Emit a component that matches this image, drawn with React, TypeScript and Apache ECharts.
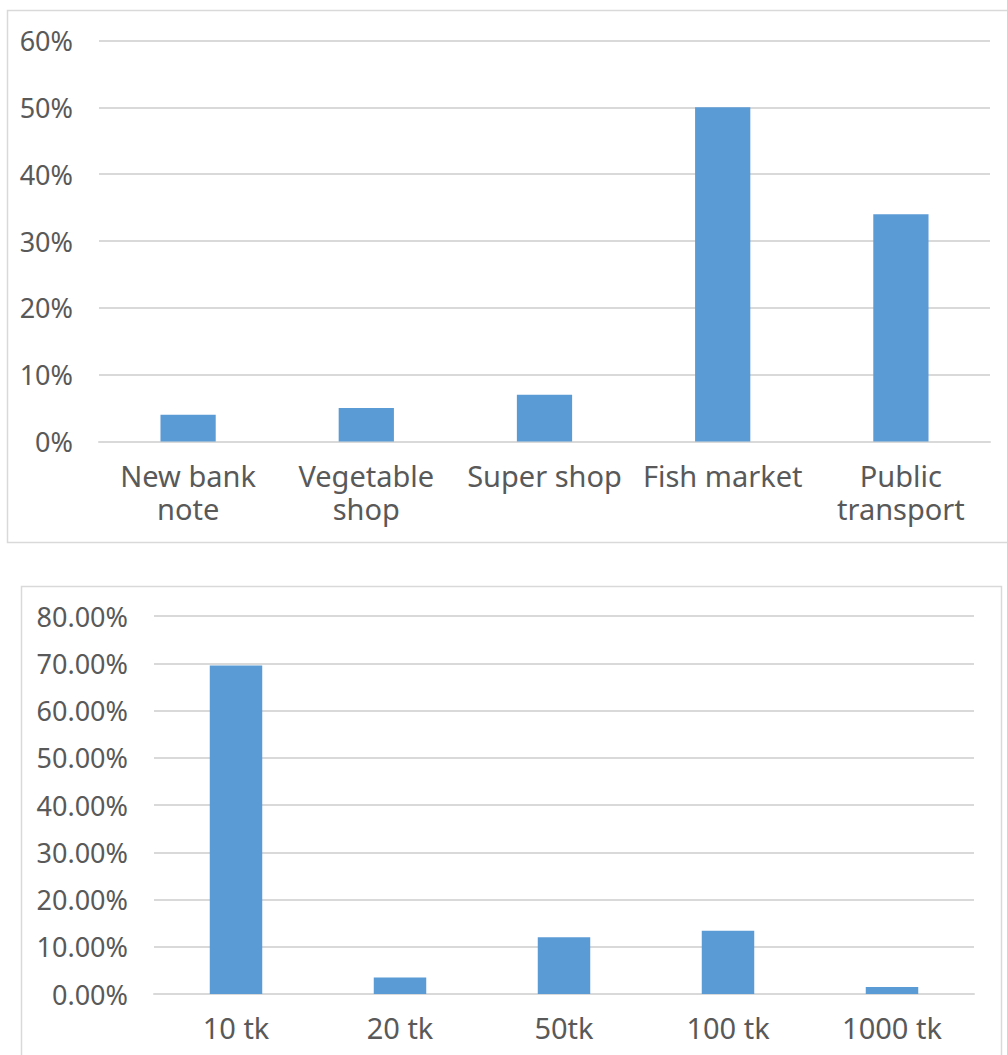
import React, { useEffect, useRef } from "react";
import * as echarts from "echarts";

const topCategories = ["New bank\nnote", "Vegetable\nshop", "Super shop", "Fish market", "Public\ntransport"];
const topValues = [4, 5, 7, 50, 34];
const topTicks = [0, 10, 20, 30, 40, 50, 60];

const bottomCategories = ["10 tk", "20 tk", "50tk", "100 tk", "1000 tk"];
const bottomValues = [69.5, 3.5, 12.0, 13.4, 1.5];
const bottomTicks = [0, 10, 20, 30, 40, 50, 60, 70, 80];

const BAR = "#5b9bd5";
const GRID = "#d9d9d9";
const TEXT = "#595959";
const FONT = "'Noto Sans', 'Noto Sans CJK SC', sans-serif";

export default function App() {
  const ref = useRef<HTMLDivElement>(null);
  useEffect(() => {
    if (!ref.current) return;
    const chart = echarts.init(ref.current, undefined, { renderer: "svg" });
    const yLabel = { color: TEXT, fontFamily: FONT, fontSize: 27 };
    const xLabel = { color: TEXT, fontFamily: FONT, fontSize: 29, lineHeight: 33, interval: 0 };
    chart.setOption({
      animation: false,
      backgroundColor: "#ffffff",
      graphic: [
        { type: "rect", shape: { x: 7.5, y: 10.5, width: 1010, height: 532 }, style: { fill: "none", stroke: GRID, lineWidth: 1.5 }, silent: true },
        { type: "rect", shape: { x: 21.5, y: 586.5, width: 980, height: 500 }, style: { fill: "none", stroke: GRID, lineWidth: 1.5 }, silent: true },
      ],
      grid: [
        { left: 99, top: 40.5, width: 891, height: 401, containLabel: false },
        { left: 154, top: 616, width: 820, height: 378, containLabel: false },
      ],
      xAxis: [
        {
          gridIndex: 0,
          type: "category",
          data: topCategories,
          axisLine: { show: true, lineStyle: { color: GRID, width: 2 } },
          axisTick: { show: false },
          axisLabel: { ...xLabel, margin: 17 },
        },
        {
          gridIndex: 1,
          type: "category",
          data: bottomCategories,
          axisLine: { show: true, lineStyle: { color: GRID, width: 2 } },
          axisTick: { show: false },
          axisLabel: { ...xLabel, margin: 17 },
        },
      ],
      yAxis: [
        {
          gridIndex: 0,
          type: "value",
          min: topTicks[0],
          max: topTicks[topTicks.length - 1],
          interval: 10,
          axisLine: { show: false },
          axisTick: { show: false },
          splitLine: { lineStyle: { color: GRID, width: 2 } },
          axisLabel: { ...yLabel, margin: 26, formatter: (v: number) => `${v}%` },
        },
        {
          gridIndex: 1,
          type: "value",
          min: bottomTicks[0],
          max: bottomTicks[bottomTicks.length - 1],
          interval: 10,
          axisLine: { show: false },
          axisTick: { show: false },
          splitLine: { lineStyle: { color: GRID, width: 2 } },
          axisLabel: { ...yLabel, margin: 26, formatter: (v: number) => `${v.toFixed(2)}%` },
        },
      ],
      series: [
        {
          type: "bar",
          xAxisIndex: 0,
          yAxisIndex: 0,
          data: topValues,
          barWidth: "31%",
          itemStyle: { color: BAR },
        },
        {
          type: "bar",
          xAxisIndex: 1,
          yAxisIndex: 1,
          data: bottomValues,
          barWidth: "32%",
          itemStyle: { color: BAR },
        },
      ],
    });
    return () => chart.dispose();
  }, []);
  return (
    <div
      ref={ref}
      style={{ position: "absolute", left: 0, top: 0, width: 1007, height: 1055 }}
    />
  );
}
